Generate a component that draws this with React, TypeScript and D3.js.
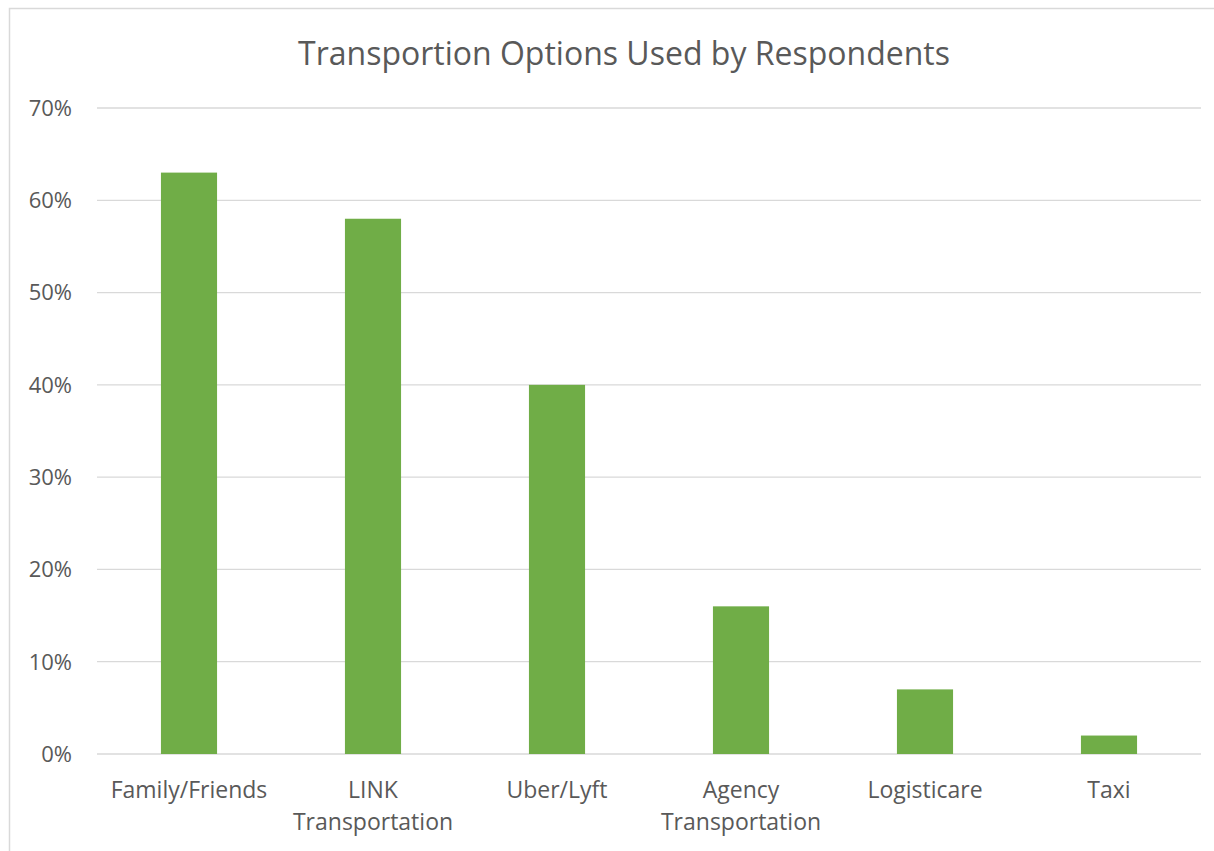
import React from "react";
import * as d3 from "d3";

const categories = ["Family/Friends", "LINK Transportation", "Uber/Lyft", "Agency Transportation", "Logisticare", "Taxi"];
const labelLines = [["Family/Friends"], ["LINK", "Transportation"], ["Uber/Lyft"], ["Agency", "Transportation"], ["Logisticare"], ["Taxi"]];
const values = [0.63, 0.58, 0.40, 0.16, 0.07, 0.02];
const yTicks = [0, 0.1, 0.2, 0.3, 0.4, 0.5, 0.6, 0.7];
const title = "Transportion Options Used by Respondents";

export default function App() {
  const W = 1214, H = 851;
  const left = 97, right = 1201, top = 108, bottom = 754;
  const x = d3.scaleBand().domain(categories).range([left, right]).paddingInner(0.695).paddingOuter(0.3475);
  const y = d3.scaleLinear().domain([0, 0.7]).range([bottom, top]);
  const fmt = d3.format(".0%");
  const font = "'Open Sans', 'Noto Sans', sans-serif";
  return (
    <svg width={W} height={H} style={{ position: "absolute", left: 0, top: 0, background: "#fff" }} fontFamily={font}>
      <rect x={9.5} y={8.5} width={W + 10} height={H + 10} fill="#fff" stroke="#D9D9D9" strokeWidth={1.5} />
      <text x={624} y={65} textAnchor="middle" fontSize={32} fill="#595959">{title}</text>
      {yTicks.map((t) => (
        <g key={t}>
          <line x1={left} x2={right} y1={y(t)} y2={y(t)} stroke="#D9D9D9" strokeWidth={1.3} />
          <text x={72} y={y(t)} dy="0.36em" textAnchor="end" fontSize={22} fill="#595959">{fmt(t)}</text>
        </g>
      ))}
      {categories.map((c, i) => (
        <rect key={c} x={x(c)} y={y(values[i])} width={x.bandwidth()} height={bottom - y(values[i])} fill="#70AD47" />
      ))}
      {categories.map((c, i) => (
        <text key={c} x={(x(c) as number) + x.bandwidth() / 2} y={798} textAnchor="middle" fontSize={23} fill="#595959">
          {labelLines[i].map((l, j) => (
            <tspan key={j} x={(x(c) as number) + x.bandwidth() / 2} dy={j === 0 ? 0 : 32}>{l}</tspan>
          ))}
        </text>
      ))}
    </svg>
  );
}
